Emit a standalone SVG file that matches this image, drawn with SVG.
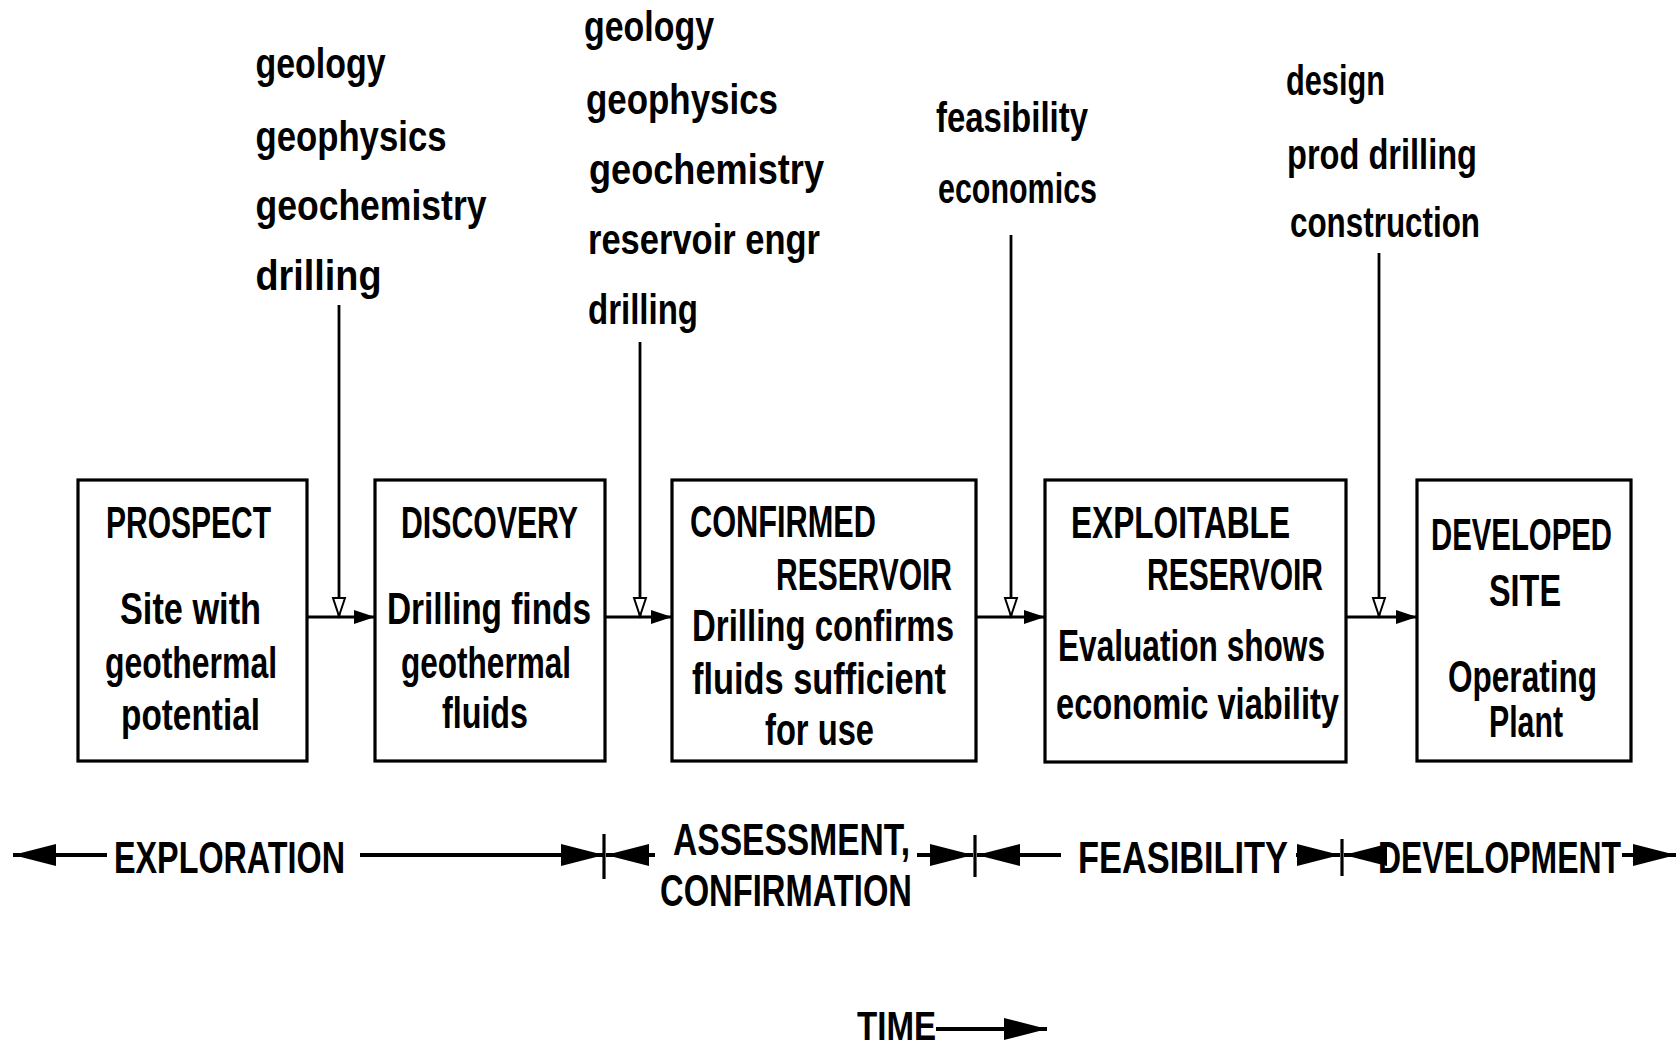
<svg xmlns="http://www.w3.org/2000/svg" width="1676" height="1049" viewBox="0 0 1676 1049">
<style>
.t{font-family:"Liberation Sans",Arial,sans-serif;font-weight:bold;fill:#000;}
.s42{font-size:42px;}
.s44{font-size:44px;}
.s45{font-size:45px;}
.s30{font-size:30px;}
.box{fill:#fff;stroke:#000;stroke-width:3.2;}
.ln{stroke:#000;stroke-width:2.8;fill:none;}
.tl{stroke:#000;stroke-width:4;fill:none;}
.tick{stroke:#000;stroke-width:3.2;}
</style>
<defs>
<marker id="fh" markerUnits="userSpaceOnUse" markerWidth="22" markerHeight="16" refX="21" refY="8" orient="auto">
<path d="M0,1 L21,8 L0,15 z" fill="#000"/>
</marker>
<marker id="oh" markerUnits="userSpaceOnUse" markerWidth="22" markerHeight="16" refX="20" refY="8" orient="auto">
<path d="M1,2 L19,8 L1,14 z" fill="#fff" stroke="#000" stroke-width="2"/>
</marker>
<marker id="bh" markerUnits="userSpaceOnUse" markerWidth="44" markerHeight="24" refX="43" refY="12" orient="auto">
<path d="M0,1 L43,12 L0,23 z" fill="#000"/>
</marker>
</defs>
<rect width="1676" height="1049" fill="#fff"/>

<g id="inputs">
<g id="in-exploration">
<text class="t s42" x="255.5" y="78" textLength="130" lengthAdjust="spacingAndGlyphs">geology</text>
<text class="t s42" x="255.5" y="151" textLength="191" lengthAdjust="spacingAndGlyphs">geophysics</text>
<text class="t s42" x="255.5" y="220" textLength="231" lengthAdjust="spacingAndGlyphs">geochemistry</text>
<text class="t s42" x="255.5" y="290" textLength="126" lengthAdjust="spacingAndGlyphs">drilling</text>
</g>
<g id="in-assessment">
<text class="t s42" x="584" y="41" textLength="130" lengthAdjust="spacingAndGlyphs">geology</text>
<text class="t s42" x="586" y="114" textLength="192" lengthAdjust="spacingAndGlyphs">geophysics</text>
<text class="t s42" x="589" y="184" textLength="235" lengthAdjust="spacingAndGlyphs">geochemistry</text>
<text class="t s42" x="588" y="254" textLength="232" lengthAdjust="spacingAndGlyphs">reservoir  engr</text>
<text class="t s42" x="588" y="324" textLength="110" lengthAdjust="spacingAndGlyphs">drilling</text>
</g>
<g id="in-feasibility">
<text class="t s42" x="936" y="132" textLength="152" lengthAdjust="spacingAndGlyphs">feasibility</text>
<text class="t s42" x="938" y="203" textLength="159" lengthAdjust="spacingAndGlyphs">economics</text>
</g>
<g id="in-development">
<text class="t s42" x="1286" y="95" textLength="99" lengthAdjust="spacingAndGlyphs">design</text>
<text class="t s42" x="1287" y="169" textLength="190" lengthAdjust="spacingAndGlyphs">prod drilling</text>
<text class="t s42" x="1290" y="237" textLength="190" lengthAdjust="spacingAndGlyphs">construction</text>
</g>
</g>

<g id="prospect">
<rect class="box" x="78" y="480" width="229" height="281"/>
<text class="t s44" x="106" y="538" textLength="165" lengthAdjust="spacingAndGlyphs">PROSPECT</text>
<text class="t s44" x="120" y="624" textLength="141" lengthAdjust="spacingAndGlyphs">Site with</text>
<text class="t s44" x="105" y="678" textLength="172" lengthAdjust="spacingAndGlyphs">geothermal</text>
<text class="t s44" x="121" y="730" textLength="139" lengthAdjust="spacingAndGlyphs">potential</text>
</g>
<g id="discovery">
<rect class="box" x="375" y="480" width="230" height="281"/>
<text class="t s44" x="401" y="538" textLength="177" lengthAdjust="spacingAndGlyphs">DISCOVERY</text>
<text class="t s44" x="387" y="624" textLength="204" lengthAdjust="spacingAndGlyphs">Drilling finds</text>
<text class="t s44" x="401" y="678" textLength="170" lengthAdjust="spacingAndGlyphs">geothermal</text>
<text class="t s44" x="442" y="728" textLength="86" lengthAdjust="spacingAndGlyphs">fluids</text>
</g>
<g id="confirmed">
<rect class="box" x="672" y="480" width="304" height="281"/>
<text class="t s44" x="690" y="537" textLength="186" lengthAdjust="spacingAndGlyphs">CONFIRMED</text>
<text class="t s44" x="776" y="590" textLength="176" lengthAdjust="spacingAndGlyphs">RESERVOIR</text>
<text class="t s44" x="692" y="641" textLength="262" lengthAdjust="spacingAndGlyphs">Drilling confirms</text>
<text class="t s44" x="692" y="694" textLength="254" lengthAdjust="spacingAndGlyphs">fluids sufficient</text>
<text class="t s44" x="765" y="745" textLength="109" lengthAdjust="spacingAndGlyphs">for use</text>
</g>
<g id="exploitable">
<rect class="box" x="1045" y="480" width="301" height="282"/>
<text class="t s44" x="1071" y="538" textLength="219" lengthAdjust="spacingAndGlyphs">EXPLOITABLE</text>
<text class="t s44" x="1147" y="590" textLength="176" lengthAdjust="spacingAndGlyphs">RESERVOIR</text>
<text class="t s44" x="1058" y="661" textLength="267" lengthAdjust="spacingAndGlyphs">Evaluation shows</text>
<text class="t s44" x="1056" y="719" textLength="283" lengthAdjust="spacingAndGlyphs">economic viability</text>
</g>
<g id="developed">
<rect class="box" x="1417" y="480" width="214" height="281"/>
<text class="t s30" x="0" y="0" transform="translate(1431,550) scale(1,1.4667)" textLength="181" lengthAdjust="spacingAndGlyphs">DEVELOPED</text>
<text class="t s44" x="1489" y="606" textLength="72" lengthAdjust="spacingAndGlyphs">SITE</text>
<text class="t s44" x="1448" y="692" textLength="149" lengthAdjust="spacingAndGlyphs">Operating</text>
<text class="t s44" x="1489" y="737" textLength="74" lengthAdjust="spacingAndGlyphs">Plant</text>
</g>

<g id="connectors">
<line class="ln" x1="307" y1="617" x2="375" y2="617" marker-end="url(#fh)"/>
<line class="ln" x1="605" y1="617" x2="672" y2="617" marker-end="url(#fh)"/>
<line class="ln" x1="976" y1="617" x2="1045" y2="617" marker-end="url(#fh)"/>
<line class="ln" x1="1346" y1="617" x2="1417" y2="617" marker-end="url(#fh)"/>
<line class="ln" x1="339" y1="305" x2="339" y2="617" marker-end="url(#oh)"/>
<line class="ln" x1="640" y1="342" x2="640" y2="617" marker-end="url(#oh)"/>
<line class="ln" x1="1011" y1="235" x2="1011" y2="617" marker-end="url(#oh)"/>
<line class="ln" x1="1379" y1="253" x2="1379" y2="617" marker-end="url(#oh)"/>
</g>

<g id="timeline">
<line class="tl" x1="107" y1="855" x2="13" y2="855" marker-end="url(#bh)"/>
<text class="t s45" x="114" y="873" textLength="231" lengthAdjust="spacingAndGlyphs">EXPLORATION</text>
<line class="tl" x1="360" y1="855" x2="604" y2="855" marker-end="url(#bh)"/>
<line class="tick" x1="604" y1="834" x2="604" y2="879"/>
<line class="tl" x1="655" y1="855" x2="606" y2="855" marker-end="url(#bh)"/>
<text class="t s45" x="673" y="855" textLength="237" lengthAdjust="spacingAndGlyphs">ASSESSMENT,</text>
<text class="t s45" x="660" y="906" textLength="252" lengthAdjust="spacingAndGlyphs">CONFIRMATION</text>
<line class="tl" x1="917" y1="855" x2="973" y2="855" marker-end="url(#bh)"/>
<line class="tick" x1="975" y1="835" x2="975" y2="877"/>
<line class="tl" x1="1061" y1="855" x2="977" y2="855" marker-end="url(#bh)"/>
<text class="t s45" x="1078" y="873" textLength="210" lengthAdjust="spacingAndGlyphs">FEASIBILITY</text>
<line class="tl" x1="1296" y1="855" x2="1340" y2="855" marker-end="url(#bh)"/>
<line class="tick" x1="1342" y1="839" x2="1342" y2="876"/>
<line class="tl" x1="1376" y1="855" x2="1344" y2="855" marker-end="url(#bh)"/>
<text class="t s30" x="0" y="0" transform="translate(1378,873) scale(1,1.5)" textLength="243" lengthAdjust="spacingAndGlyphs">DEVELOPMENT</text>
<line class="tl" x1="1622" y1="855" x2="1676" y2="855" marker-end="url(#bh)"/>
<text class="t" style="font-size:40px" x="857" y="1040" textLength="79" lengthAdjust="spacingAndGlyphs">TIME</text>
<line class="tl" x1="936" y1="1029" x2="1047" y2="1029" marker-end="url(#bh)"/>
</g>
</svg>
